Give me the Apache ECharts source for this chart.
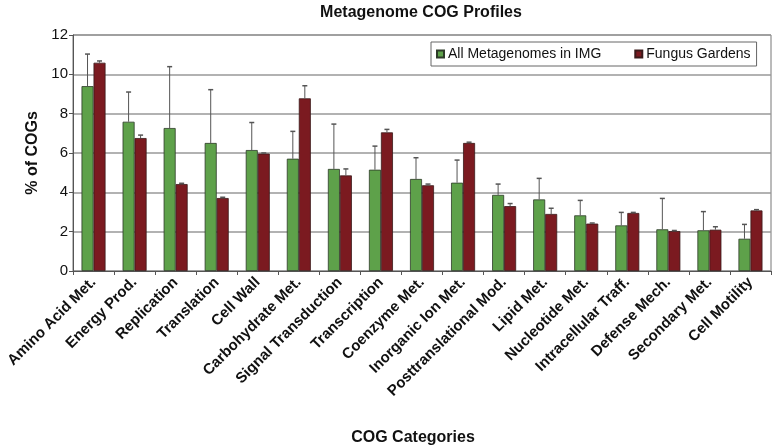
<!DOCTYPE html>
<html>
<head>
<meta charset="utf-8">
<script src="https://cdn.jsdelivr.net/npm/echarts@6/dist/echarts.min.js"></script>
<style>html,body{margin:0;padding:0;background:#fff}#c{width:772px;height:446px}</style>
</head>
<body>
<div id="c"></div>
<script>
const categories = ["Amino Acid Met.","Energy Prod.","Replication","Translation","Cell Wall","Carbohydrate Met.","Signal Transduction","Transcription","Coenzyme Met.","Inorganic Ion Met.","Posttranslational Mod.","Lipid Met.","Nucleotide Met.","Intracellular Traff.","Defense Mech.","Secondary Met.","Cell Motility"];
const allIMG = [9.4,7.59,7.27,6.51,6.15,5.71,5.19,5.15,4.68,4.49,3.87,3.64,2.83,2.32,2.12,2.07,1.64];
const allIMGErr = [11.03,9.1,10.39,9.22,7.55,7.1,7.47,6.35,5.76,5.64,4.42,4.71,3.59,2.98,3.69,3.02,2.37];
const fungus = [10.59,6.76,4.42,3.71,5.97,8.78,4.86,7.05,4.36,6.51,3.3,2.9,2.41,2.95,2.03,2.1,3.08];
const fungusErr = [10.68,6.91,4.46,3.75,6.0,9.42,5.19,7.2,4.42,6.55,3.43,3.19,2.44,2.98,2.06,2.25,3.12];
const yTicks = {min:0, max:12, interval:2};

const green = '#5ea14a', red = '#7b1a20';
const chart = echarts.init(document.getElementById('c'));
function errSeries(vals, highs, offset){
  return {
    type:'custom', silent:true, z:5,
    data: vals.map((v,i)=>[i,v,highs[i]]),
    renderItem:(params, api)=>{
      const i = api.value(0);
      const lo = api.coord([i, api.value(1)]);
      const hi = api.coord([i, api.value(2)]);
      const x = lo[0] + offset;
      const st = {stroke:'#555', lineWidth:1};
      return {type:'group', children:[
        {type:'line', shape:{x1:x,y1:lo[1],x2:x,y2:hi[1]}, style:st},
        {type:'line', shape:{x1:x-2.5,y1:hi[1],x2:x+2.5,y2:hi[1]}, style:{stroke:'#555',lineWidth:1.5}}
      ]};
    }
  };
}
chart.setOption({
  animation:false,
  textStyle:{fontFamily:'Liberation Sans, Arial, sans-serif'},
  title:{text:'Metagenome COG Profiles', left:416, textAlign:'center', top:0,
    textStyle:{fontSize:16, fontWeight:'bold', color:'#111', fontFamily:'Liberation Sans'}},
  legend:{left:431, top:42, padding:[5,6,5,5], itemGap:33, itemWidth:7, itemHeight:7, icon:'rect',
    borderColor:'#666', borderWidth:1,
    textStyle:{fontSize:14, color:'#111', padding:[0,0,0,-1]},
    data:['All Metagenomes in IMG','Fungus Gardens']},
  grid:{left:73, right:1, top:35, bottom:175, show:true, borderColor:'#777', borderWidth:1,
    outerBoundsMode:'none', containLabel:false},
  xAxis:{type:'category', data:categories,
    name:'COG Categories', nameLocation:'middle', nameGap:159,
    nameTextStyle:{fontSize:16, fontWeight:'bold', color:'#111', padding:[0,18,0,0]},
    axisLine:{lineStyle:{color:'#555'}},
    axisTick:{show:true, length:4, lineStyle:{color:'#555'}},
    axisLabel:{rotate:45, fontSize:15, fontWeight:'bold', color:'#111', margin:9, interval:0},
    splitLine:{show:false}},
  yAxis:{type:'value', min:yTicks.min, max:yTicks.max, interval:yTicks.interval,
    name:'% of COGs', nameLocation:'middle', nameGap:32,
    nameTextStyle:{fontSize:16, fontWeight:'bold', color:'#111'},
    axisLine:{show:true, lineStyle:{color:'#555'}},
    axisTick:{show:true, length:4, lineStyle:{color:'#555'}},
    axisLabel:{fontSize:15, color:'#111', margin:5},
    splitLine:{lineStyle:{color:'#999', width:1.5}}},
  series:[
    {name:'All Metagenomes in IMG', type:'bar', data:allIMG, barWidth:12, barGap:'0%',
      itemStyle:{color:green, borderColor:'#2d3a28', borderWidth:0.8}},
    {name:'Fungus Gardens', type:'bar', data:fungus, barWidth:12, barGap:'0%',
      itemStyle:{color:red, borderColor:'#3a1a1a', borderWidth:0.8}},
    errSeries(allIMG, allIMGErr, -6),
    errSeries(fungus, fungusErr, 6)
  ]
});
</script>
</body>
</html>
